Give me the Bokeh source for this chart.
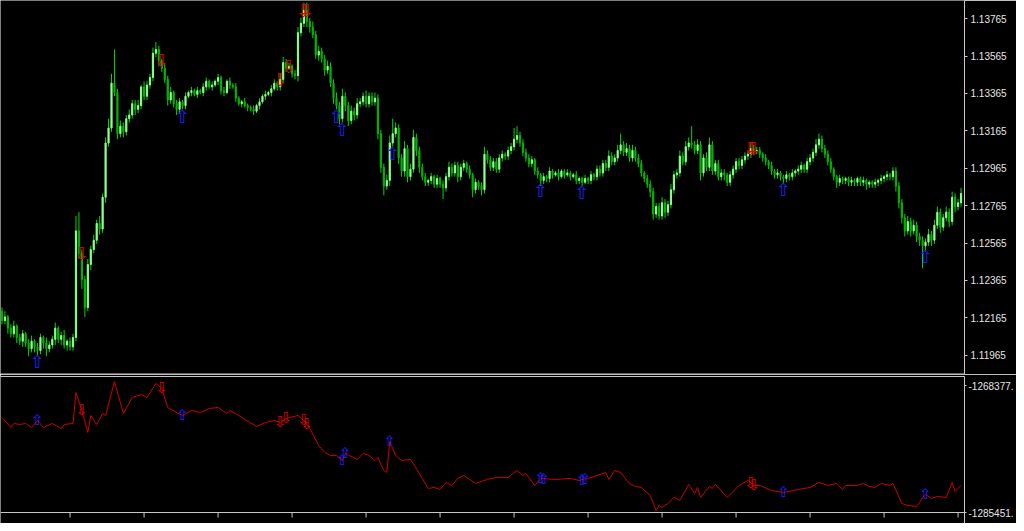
import numpy as np
from bokeh.plotting import figure
from bokeh.models import Range1d, FixedTicker, LinearAxis, PrintfTickFormatter, Span
from bokeh.layouts import column
from bokeh.embed import file_html
from bokeh.resources import INLINE
from bokeh.core.properties import value

# ---------------- data ----------------
first_open = 1.1220
close = [
    1.1215, 1.1217, 1.1211, 1.1208, 1.1212, 1.1206, 1.1204, 1.1208, 1.1203, 1.1200, 1.1204, 1.1201, 1.1199, 1.1206, 1.1203, 1.1200, 1.1202, 1.1205, 1.1211, 1.1205, 1.1207, 1.1202, 1.1204, 1.1201, 1.1206,
    1.1263, 1.1251, 1.1237, 1.1222, 1.1245, 1.1253, 1.1258, 1.1267, 1.1264, 1.1281, 1.1310, 1.1318, 1.1342, 1.1337, 1.1315, 1.1319, 1.1316, 1.1323, 1.1325, 1.1331, 1.1328, 1.1330, 1.1340, 1.1335, 1.1341,
    1.1345, 1.1358, 1.1360, 1.1354, 1.1350, 1.1344, 1.1333, 1.1337, 1.1331, 1.1328, 1.1332, 1.1330, 1.1335, 1.1337, 1.1338, 1.1336, 1.1338, 1.1337, 1.1340, 1.1343, 1.1340, 1.1341, 1.1343, 1.1345, 1.1338,
    1.1337, 1.1343, 1.1341, 1.1340, 1.1334, 1.1331, 1.1332, 1.1330, 1.1329, 1.1328, 1.1327, 1.1330, 1.1332, 1.1335, 1.1336, 1.1337, 1.1339, 1.1342, 1.1340, 1.1344, 1.1353, 1.1350, 1.1351, 1.1347, 1.1346,
    1.1369, 1.1374, 1.1381, 1.1375, 1.1372, 1.1368, 1.1357, 1.1359, 1.1355, 1.1349, 1.1351, 1.1342, 1.1334, 1.1330, 1.1323, 1.1335, 1.1330, 1.1322, 1.1327, 1.1325, 1.1331, 1.1332, 1.1335, 1.1331, 1.1335,
    1.1332, 1.1334, 1.1315, 1.1297, 1.1287, 1.1290, 1.1310, 1.1315, 1.1318, 1.1302, 1.1295, 1.1307, 1.1292, 1.1296, 1.1313, 1.1306, 1.1297, 1.1292, 1.1289, 1.1290, 1.1292, 1.1288, 1.1291, 1.1288, 1.1286,
    1.1292, 1.1297, 1.1294, 1.1298, 1.1292, 1.1297, 1.1299, 1.1296, 1.1293, 1.1285, 1.1289, 1.1287, 1.1285, 1.1304, 1.1301, 1.1297, 1.1300, 1.1296, 1.1302, 1.1304, 1.1303, 1.1306, 1.1308, 1.1312, 1.1314,
    1.1310, 1.1305, 1.1302, 1.1299, 1.1301, 1.1295, 1.1293, 1.1290, 1.1292, 1.1291, 1.1295, 1.1293, 1.1294, 1.1292, 1.1295, 1.1293, 1.1294, 1.1292, 1.1293, 1.1290, 1.1291, 1.1289, 1.1291, 1.1290, 1.1293,
    1.1292, 1.1296, 1.1294, 1.1299, 1.1297, 1.1303, 1.1300, 1.1302, 1.1306, 1.1309, 1.1305, 1.1307, 1.1302, 1.1306, 1.1302, 1.1299, 1.1294, 1.1291, 1.1288, 1.1284, 1.1272, 1.1276, 1.1271, 1.1278, 1.1273,
    1.1277, 1.1285, 1.1293, 1.1294, 1.1303, 1.1300, 1.1308, 1.1310, 1.1309, 1.1306, 1.1309, 1.1294, 1.1302, 1.1297, 1.1309, 1.1295, 1.1299, 1.1292, 1.1294, 1.1293, 1.1289, 1.1293, 1.1296, 1.1300, 1.1298,
    1.1301, 1.1303, 1.1304, 1.1307, 1.1306, 1.1306, 1.1304, 1.1302, 1.1300, 1.1298, 1.1295, 1.1293, 1.1294, 1.1292, 1.1291, 1.1293, 1.1292, 1.1294, 1.1295, 1.1296, 1.1298, 1.1296, 1.1300, 1.1302, 1.1305,
    1.1309, 1.1312, 1.1307, 1.1304, 1.1300, 1.1296, 1.1292, 1.1289, 1.1291, 1.1290, 1.1291, 1.1289, 1.1290, 1.1289, 1.1291, 1.1289, 1.1290, 1.1288, 1.1289, 1.1288, 1.1289, 1.1290, 1.1291, 1.1292, 1.1293,
    1.1292, 1.1295, 1.1287, 1.1278, 1.1270, 1.1263, 1.1268, 1.1263, 1.1266, 1.1260, 1.1258, 1.1255, 1.1257, 1.1261, 1.1258, 1.1266, 1.1273, 1.1265, 1.1270, 1.1273, 1.1268, 1.1281, 1.1276, 1.1278, 1.1283,
]
# upper / lower shadow beyond the body, in pips
wick_up = [
    2, 3, 1, 2, 3, 1, 2, 2, 1, 2, 3, 1, 2, 2, 1, 3, 2, 2, 3, 1, 2, 3, 1, 2, 2,
    8, 10, 2, 2, 3, 2, 3, 2, 4, 2, 3, 5, 5, 18, 2, 3, 2, 2, 3, 2, 2, 3, 1, 3, 2,
    2, 3, 4, 2, 1, 2, 2, 3, 1, 2, 2, 1, 2, 1, 2, 1, 2, 1, 2, 2, 1, 2, 1, 2, 1,
    2, 1, 2, 1, 2, 1, 1, 2, 1, 1, 2, 1, 2, 1, 2, 1, 2, 2, 1, 3, 3, 2, 2, 1, 2,
    3, 3, 4, 4, 2, 3, 2, 3, 2, 2, 3, 2, 2, 3, 2, 4, 2, 2, 3, 2, 3, 2, 2, 3, 2,
    2, 3, 2, 2, 2, 3, 4, 8, 3, 2, 2, 4, 2, 3, 4, 2, 2, 2, 2, 1, 2, 1, 2, 1, 2,
    2, 3, 2, 2, 2, 2, 2, 1, 2, 1, 2, 1, 2, 4, 2, 2, 2, 2, 2, 2, 1, 2, 2, 6, 5,
    2, 2, 2, 2, 2, 1, 2, 1, 2, 1, 2, 1, 1, 2, 1, 1, 2, 1, 1, 2, 1, 1, 2, 1, 2,
    1, 2, 2, 2, 2, 3, 2, 2, 3, 6, 2, 3, 2, 3, 2, 2, 2, 1, 2, 2, 2, 2, 2, 3, 2,
    2, 3, 2, 2, 3, 2, 3, 3, 9, 2, 3, 2, 2, 3, 4, 2, 2, 2, 2, 2, 1, 2, 2, 2, 2,
    2, 2, 2, 3, 2, 2, 2, 1, 2, 1, 2, 1, 2, 1, 1, 2, 1, 2, 1, 2, 2, 1, 2, 2, 2,
    3, 3, 2, 2, 2, 2, 1, 1, 2, 1, 1, 1, 2, 1, 1, 1, 2, 1, 1, 1, 2, 1, 2, 1, 2,
    1, 2, 2, 2, 2, 2, 3, 2, 3, 2, 2, 2, 2, 3, 2, 3, 3, 2, 2, 3, 2, 3, 2, 2, 3,
]
wick_dn = [
    2, 2, 3, 2, 2, 3, 2, 3, 2, 4, 2, 3, 3, 2, 3, 4, 2, 2, 3, 2, 3, 2, 3, 2, 2,
    2, 3, 5, 5, 2, 3, 2, 2, 3, 2, 3, 2, 2, 2, 3, 2, 3, 2, 2, 2, 3, 2, 2, 2, 2,
    2, 2, 2, 3, 2, 2, 3, 2, 2, 3, 2, 2, 2, 1, 2, 1, 2, 1, 2, 2, 1, 2, 1, 2, 2,
    2, 1, 2, 1, 2, 1, 2, 1, 2, 1, 2, 1, 2, 1, 2, 1, 2, 1, 2, 2, 2, 2, 1, 2, 2,
    3, 2, 2, 3, 3, 2, 2, 3, 2, 3, 2, 2, 3, 2, 3, 2, 3, 3, 2, 3, 2, 2, 2, 2, 2,
    2, 2, 3, 3, 5, 2, 3, 2, 2, 3, 3, 3, 3, 2, 2, 3, 3, 2, 2, 2, 2, 2, 2, 2, 6,
    2, 2, 2, 2, 3, 2, 2, 2, 2, 4, 2, 2, 3, 2, 2, 2, 2, 2, 2, 2, 2, 2, 2, 2, 2,
    2, 2, 2, 2, 2, 2, 2, 3, 2, 2, 2, 2, 1, 2, 1, 2, 1, 2, 1, 2, 2, 2, 1, 2, 2,
    2, 2, 2, 2, 2, 2, 2, 2, 2, 2, 2, 2, 2, 2, 2, 2, 2, 2, 2, 3, 3, 2, 2, 2, 3,
    2, 2, 2, 2, 2, 2, 2, 2, 2, 2, 2, 4, 2, 2, 2, 2, 2, 2, 2, 3, 2, 2, 2, 2, 2,
    2, 2, 2, 2, 2, 2, 2, 2, 2, 2, 2, 2, 2, 2, 3, 2, 2, 2, 2, 2, 2, 2, 2, 2, 2,
    2, 2, 2, 2, 2, 2, 2, 3, 2, 2, 2, 2, 2, 2, 2, 2, 2, 3, 2, 2, 2, 2, 2, 2, 2,
    2, 2, 3, 3, 3, 3, 2, 3, 2, 3, 3, 12, 3, 2, 3, 2, 2, 3, 2, 2, 3, 2, 3, 2, 2,
]
price_ticks = [1.11965, 1.12165, 1.12365, 1.12565, 1.12765, 1.12965, 1.13165, 1.13365, 1.13565, 1.13765]

# indicator sub-window (bar index, value)
ind_bar = [0, 3, 4, 6, 8, 10, 12, 14, 17, 20, 21, 24, 25, 27, 29, 30, 32, 34, 35, 38, 41, 44, 47, 49, 52, 54, 56, 59, 61, 64,
           67, 70, 73, 76, 77, 80, 82, 86, 89, 92, 94, 96, 100, 102, 104, 107, 109, 111, 113, 115, 116, 120, 122, 124, 126, 127, 129, 130, 131, 133,
           135, 138, 140, 144, 146, 148, 150, 152, 154, 156, 160, 164, 167, 171, 174, 176, 177, 180, 182, 187, 192, 195, 199, 201, 204, 205, 207, 209, 212, 214,
           216, 219, 221, 222, 223, 225, 227, 229, 232, 234, 235, 236, 239, 240, 241, 245, 249, 252, 254, 256, 260, 264, 269, 273, 276, 279, 282, 284, 285, 289,
           291, 293, 295, 297, 300, 301, 304, 306, 309, 310, 311, 312, 314, 316, 319, 321, 322, 324]
ind_val = [-1273523, -1274778, -1274276, -1274401, -1274276, -1274778, -1273899, -1274778, -1274276, -1274903,
           -1274401, -1274276, -1270385, -1272644, -1275405, -1273272, -1274401, -1273021, -1273272, -1269005,
           -1273021, -1271013, -1270636, -1271013, -1269256, -1269883, -1272268, -1272895, -1273272, -1272644,
           -1272895, -1272393, -1272268, -1273021, -1272644, -1273272, -1273774, -1274652, -1274150, -1273899,
           -1274150, -1273648, -1273272, -1273899, -1274903, -1277037, -1277915, -1278292, -1278292, -1278919,
           -1278041, -1278794, -1278041, -1278292, -1278919, -1278543, -1280174, -1280425, -1276535, -1278292,
           -1278919, -1278794, -1279923, -1282433, -1282308, -1282559, -1281680, -1282057, -1281178, -1280802,
           -1281806, -1281304, -1281053, -1281053, -1280174, -1280802, -1280551, -1282057, -1281178, -1281304,
           -1281178, -1281429, -1281053, -1280802, -1280425, -1281304, -1280174, -1280425, -1281806, -1282182,
           -1282308, -1283312, -1285194, -1284567, -1284818, -1284316, -1283563, -1283939, -1281931, -1283061,
           -1282308, -1283563, -1282182, -1282433, -1281931, -1283563, -1282057, -1281429, -1282057, -1282057,
           -1282684, -1282935, -1282559, -1282308, -1281680, -1282057, -1281806, -1282559, -1282057, -1282057,
           -1281806, -1282182, -1282308, -1281806, -1282057, -1281806, -1284316, -1284567, -1284692, -1284190,
           -1283563, -1283186, -1283688, -1283437, -1283563, -1281680, -1282810, -1282057]
ind_ticks = [-1285451, -1268377]

buy_main = [12, 61, 113, 115, 132, 182, 196, 264, 312]
sell_main = [27, 54, 94, 97, 102, 103, 253, 254]
buy_ind = [12, 61, 115, 116, 131, 182, 183, 196, 197, 264, 312]
sell_ind = [27, 54, 94, 96, 102, 103, 253, 254]
time_ticks = [23, 48, 73, 98, 123, 148, 173, 198, 223, 248, 273, 298, 323]

# ---------------- styling ----------------
FONT = "Liberation Sans"
AXIS_COL = "#c8c8c8"
TEXT_COL = "#e4e4e4"
BULL = "#8cff8c"
BEAR = "#00b400"
WICK = "#00d800"
RIGHT = 50

n = len(close)
idx = np.arange(n)
c = np.array(close)
o = np.concatenate([[first_open], c[:-1]])
top = np.maximum(o, c)
bot = np.minimum(o, c)
hi = top + np.array(wick_up) * 1e-4
lo = bot - np.array(wick_dn) * 1e-4
up = c >= o

X0, X1 = -0.5, n + 0.17

p1 = figure(width=1016, height=374, x_range=Range1d(X0, X1), y_range=Range1d(1.11862, 1.13862),
            output_backend="svg", toolbar_location=None, x_axis_location=None, y_axis_location=None,
            background_fill_color="black", border_fill_color="black", outline_line_color=None,
            min_border_left=0, min_border_top=0, min_border_bottom=0, min_border_right=RIGHT)
p1.grid.visible = False

p1.segment(idx, lo, idx, hi, line_color=WICK, line_width=1)
p1.vbar(x=idx[up], top=top[up], bottom=bot[up], width=0.4, fill_color=BULL, line_color=BULL, line_width=1)
p1.vbar(x=idx[~up], top=top[~up], bottom=bot[~up], width=0.4, fill_color=BEAR, line_color=BEAR, line_width=1)

bm = np.array(buy_main)
sm = np.array(sell_main)
p1.text(x=bm, y=bot[bm], text=["\u21e7"] * len(bm), text_color="#2020ff", text_align="center",
        text_baseline="top", text_font=value("DejaVu Sans"), text_font_size="18px")
p1.text(x=sm, y=top[sm], text=["\u21e9"] * len(sm), text_color="#e00000", text_align="center",
        text_baseline="middle", text_font=value("DejaVu Sans"), text_font_size="18px")

ax = LinearAxis(ticker=FixedTicker(ticks=price_ticks), formatter=PrintfTickFormatter(format="%.5f"))
ax.axis_line_color = AXIS_COL
ax.major_tick_line_color = AXIS_COL
ax.major_tick_in = 0
ax.major_tick_out = 3
ax.minor_tick_line_color = None
ax.major_label_standoff = 3
ax.major_label_text_color = TEXT_COL
ax.major_label_text_font = FONT
ax.major_label_text_font_size = "10px"
p1.add_layout(ax, "right")

bx = LinearAxis(ticker=FixedTicker(ticks=[]), major_tick_out=0, major_tick_in=0, major_label_standoff=0,
                axis_line_color=AXIS_COL, axis_line_width=2, minor_tick_line_color=None)
p1.add_layout(bx, "below")

# ---------------- indicator window ----------------
SPAN = ind_ticks[1] - ind_ticks[0]
PX = SPAN / 136.0          # value per pixel of the indicator window
ybot = ind_ticks[0] - 11 * PX
p2 = figure(width=1016, height=149, x_range=p1.x_range, y_range=Range1d(ybot, ind_ticks[1]),
            output_backend="svg", toolbar_location=None, x_axis_location=None, y_axis_location=None,
            background_fill_color="black", border_fill_color="black", outline_line_color=None,
            min_border_left=0, min_border_top=2, min_border_bottom=0, min_border_right=RIGHT)
p2.grid.visible = False
p2.line(ind_bar, ind_val, line_color="#cc0000", line_width=1)

bi = np.array(buy_ind)
si = np.array(sell_ind)
p2.text(x=bi, y=np.interp(bi, ind_bar, ind_val), text=["\u21e7"] * len(bi), text_color="#2020ff",
        text_align="center", text_baseline="middle", text_font=value("DejaVu Sans"), text_font_size="15px")
p2.text(x=si, y=np.interp(si, ind_bar, ind_val), text=["\u21e9"] * len(si), text_color="#e00000",
        text_align="center", text_baseline="middle", text_font=value("DejaVu Sans"), text_font_size="15px")

# bottom edge of the indicator window with the time-scale ticks
p2.add_layout(Span(location=ind_ticks[0], dimension="width", line_color=AXIS_COL, line_width=1))
p2.segment(x0=time_ticks, y0=[ind_ticks[0]] * len(time_ticks), x1=time_ticks,
           y1=[ind_ticks[0] - 5 * PX] * len(time_ticks), line_color=AXIS_COL, line_width=1)

tx = LinearAxis(ticker=FixedTicker(ticks=[]), major_tick_out=0, major_tick_in=0, major_label_standoff=0,
                axis_line_color=AXIS_COL, axis_line_width=1, minor_tick_line_color=None)
p2.add_layout(tx, "above")

label_pos = [ind_ticks[0], ind_ticks[1] - 9 * PX]
rx = LinearAxis(ticker=FixedTicker(ticks=label_pos),
                major_label_overrides={label_pos[0]: f"{ind_ticks[0]}.", label_pos[1]: f"{ind_ticks[1]}."})
rx.axis_line_color = AXIS_COL
rx.major_tick_line_color = AXIS_COL
rx.major_tick_in = 0
rx.major_tick_out = 2
rx.minor_tick_line_color = None
rx.major_label_standoff = 2
rx.major_label_text_color = TEXT_COL
rx.major_label_text_font = FONT
rx.major_label_text_font_size = "10px"
p2.add_layout(rx, "right")

layout = column(p1, p2, spacing=0)
open("out.html", "w").write(file_html(layout, INLINE))
